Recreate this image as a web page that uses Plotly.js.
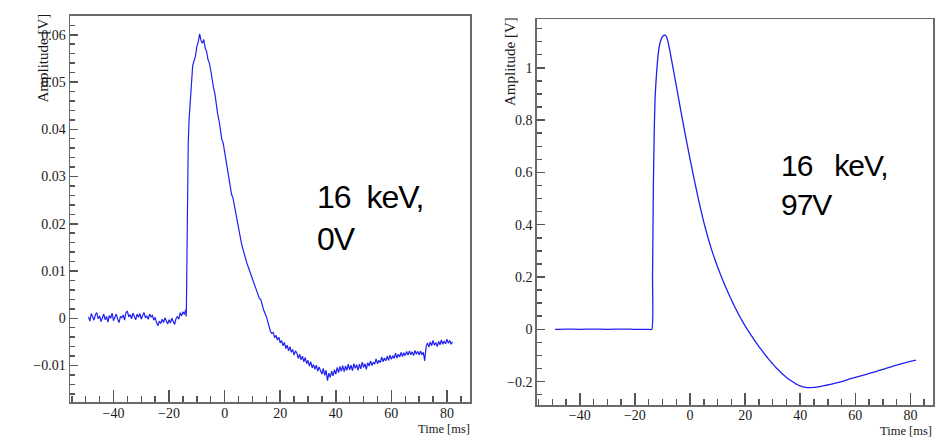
<!DOCTYPE html>
<html>
<head>
<meta charset="utf-8">
<script src="https://cdn.plot.ly/plotly-3.0.1.min.js"></script>
<style>
html,body{margin:0;padding:0;background:#ffffff;}
#plot{width:937px;height:437px;}
</style>
</head>
<body>
<div id="plot"></div>
<script>
// ---- Left panel: 16 keV, 0 V (time in ms, amplitude in V) ----
const timeLeft = [
-49,-48.5,-48,-47.5,-47,-46.5,-46,-45.5,-45,-44.5,-44,-43.5,-43,-42.5,-42,-41.5,-41,-40.5,-40,-39.5,
-39,-38.5,-38,-37.5,-37,-36.5,-36,-35.5,-35,-34.5,-34,-33.5,-33,-32.5,-32,-31.5,-31,-30.5,-30,-29.5,
-29,-28.5,-28,-27.5,-27,-26.5,-26,-25.5,-25,-24.5,-24,-23.5,-23,-22.5,-22,-21.5,-21,-20.5,-20,-19.5,
-19,-18.5,-18,-17.5,-17,-16.5,-16,-15.5,-15,-14.5,-14,-13.8,
-13.6,-13.4,-13.1,-12.8,-12.4,-12,-11.5,-11,-10.5,-10,-9.5,-9,-8.5,-8,-7.5,-7,-6.5,-6,-5.5,-5,
-4.5,-4,-3.5,-3,-2.5,-2,-1.5,-1,-0.5,0,0.5,1,1.5,2,2.5,3,3.5,4,4.5,5,
5.5,6,6.5,7,7.5,8,9,10,11,12,12.5,13,13.5,14,15,
15.5,16,16.5,17,17.5,18,18.5,19,19.5,20,20.5,21,21.5,22,22.5,23,23.5,24,24.5,25,
25.5,26,26.5,27,27.5,28,28.5,29,29.5,30,30.5,31,31.5,32,32.5,33,33.5,34,34.5,35,
35.5,36,36.5,37,37.5,38,38.5,39,39.5,40,40.5,41,41.5,42,42.5,43,43.5,44,44.5,45,
45.5,46,46.5,47,47.5,48,48.5,49,49.5,50,50.5,51,51.5,52,52.5,53,53.5,54,54.5,55,
55.5,56,56.5,57,57.5,58,58.5,59,59.5,60,60.5,61,61.5,62,62.5,63,63.5,64,64.5,65,
65.5,66,66.5,67,67.5,68,68.5,69,69.5,70,70.5,71,71.5,72,72.5,73,73.5,74,74.5,75,
75.5,76,76.5,77,77.5,78,78.5,79,79.5,80,80.5,81,81.5,82
];
const ampLeft = [
0.0003,-0.0006,0.0010,0.0002,-0.0004,0.0008,0.0012,-0.0001,0.0005,-0.0007,0.0001,0.0009,-0.0003,0.0004,-0.0008,0.0006,0.0000,0.0011,-0.0005,0.0003,
0.0009,-0.0002,-0.0009,0.0004,0.0001,0.0007,-0.0004,0.0012,0.0015,0.0003,0.0008,-0.0001,0.0011,0.0004,-0.0003,0.0009,0.0002,0.0010,-0.0002,0.0006,
0.0012,0.0001,0.0005,-0.0002,0.0009,0.0003,0.0006,-0.0004,0.0002,-0.0009,-0.0016,-0.0006,-0.0011,-0.0002,-0.0009,0.0001,-0.0007,-0.0012,-0.0003,-0.0010,
0.0000,-0.0008,-0.0013,-0.0001,0.0004,-0.0002,0.0012,0.0005,0.0014,0.0008,0.0018,0.0004,
0.0100,0.0280,0.0370,0.0420,0.0460,0.0500,0.0535,0.0545,0.0555,0.0575,0.0585,0.0602,0.0588,0.0582,0.0590,0.0572,0.0565,0.0548,0.0540,0.0525,
0.0500,0.0488,0.0475,0.0450,0.0432,0.0418,0.0400,0.0378,0.0370,0.0352,0.0332,0.0310,0.0300,0.0278,0.0262,0.0255,0.0238,0.0222,0.0205,0.0192,
0.0172,0.0160,0.0148,0.0137,0.0126,0.0117,0.0100,0.0084,0.0068,0.0052,0.0042,0.0040,0.0030,0.0018,0.0004,
-0.0006,-0.0020,-0.0028,-0.0032,-0.0030,-0.0041,-0.0036,-0.0046,-0.0040,-0.0052,-0.0047,-0.0058,-0.0051,-0.0064,-0.0057,-0.0069,-0.0060,-0.0072,-0.0066,-0.0078,
-0.0069,-0.0074,-0.0085,-0.0076,-0.0088,-0.0080,-0.0092,-0.0083,-0.0096,-0.0089,-0.0101,-0.0092,-0.0105,-0.0098,-0.0108,-0.0099,-0.0112,-0.0103,-0.0109,-0.0118,
-0.0106,-0.0121,-0.0110,-0.0132,-0.0116,-0.0125,-0.0112,-0.0122,-0.0109,-0.0118,-0.0104,-0.0115,-0.0102,-0.0112,-0.0100,-0.0113,-0.0101,-0.0110,-0.0097,-0.0109,
-0.0099,-0.0111,-0.0096,-0.0106,-0.0098,-0.0110,-0.0097,-0.0107,-0.0093,-0.0104,-0.0096,-0.0108,-0.0094,-0.0101,-0.0090,-0.0100,-0.0093,-0.0097,-0.0086,-0.0096,
-0.0089,-0.0094,-0.0082,-0.0092,-0.0084,-0.0090,-0.0080,-0.0089,-0.0078,-0.0087,-0.0079,-0.0085,-0.0074,-0.0084,-0.0076,-0.0082,-0.0072,-0.0081,-0.0073,-0.0079,
-0.0070,-0.0078,-0.0069,-0.0077,-0.0071,-0.0079,-0.0068,-0.0076,-0.0070,-0.0078,-0.0069,-0.0077,-0.0072,-0.0090,-0.0060,-0.0052,-0.0061,-0.0050,-0.0058,-0.0047,
-0.0057,-0.0051,-0.0060,-0.0049,-0.0056,-0.0046,-0.0055,-0.0048,-0.0054,-0.0044,-0.0053,-0.0047,-0.0055,-0.0050
];

// ---- Right panel: 16 keV, 97 V ----
const timeRight = [
-49,-45,-40,-35,-30,-25,-20,-15,-13.9,-13.6,-13.3,-13,-12.7,-12.2,-11.5,-11,-10.5,-10,-9.5,-9,
-8.5,-8,-7.5,-7,-6,-5,-4,-3,-2,-1,0,1,2,3,4,5,6,7,8,9,
10,11,12,13,14,15,16,17,18,19,20,21,22,23,24,25,26,27,28,29,
30,31,32,33,34,35,36,37,38,39,40,41,42,43,44,45,46,48,50,52,
54,56,58,60,62,64,66,68,70,72,74,76,78,80,82
];
const ampRight = [
0.000,0.001,0.000,0.001,0.000,0.001,0.000,0.000,0.000,0.200,0.550,0.750,0.878,0.970,1.057,1.090,1.108,1.119,1.124,1.125,
1.118,1.100,1.075,1.047,0.990,0.932,0.874,0.816,0.760,0.705,0.652,0.600,0.549,0.500,0.454,0.410,0.370,0.333,0.299,0.268,
0.239,0.211,0.185,0.160,0.136,0.113,0.091,0.070,0.050,0.031,0.013,-0.004,-0.020,-0.036,-0.051,-0.066,-0.080,-0.094,-0.107,-0.120,
-0.132,-0.144,-0.155,-0.165,-0.175,-0.184,-0.192,-0.199,-0.206,-0.212,-0.216,-0.220,-0.222,-0.223,-0.223,-0.222,-0.221,-0.217,-0.213,-0.208,
-0.203,-0.197,-0.190,-0.184,-0.178,-0.172,-0.166,-0.160,-0.153,-0.147,-0.140,-0.134,-0.128,-0.123,-0.118
];

const labelLeft = "16\u00a0\u00a0keV,<br>0V";
const labelRight = "16\u00a0\u00a0\u00a0keV,<br>97V";
const xTitle = "Time [ms]";
const yTitle = "Amplitude [V]";

const lineColor = "#2020f0";
const frameColor = "#6a6a6a";
const tickColor = "#555555";
const tickFont = {family: "Liberation Serif, Times New Roman, serif", size: 14, color: "#1a1a1a"};

function xAxis(domain, anchor) {
  return {
    domain: domain, anchor: anchor, range: [-55.65, 88.3],
    showgrid: false, zeroline: false, showline: true, mirror: true,
    linecolor: frameColor, linewidth: 1.5,
    ticks: "inside", ticklen: 12, tickwidth: 1.5, tickcolor: tickColor,
    dtick: 20, tick0: 0, tickfont: tickFont, ticklabelstandoff: -3,
    minor: {dtick: 5, tick0: 0, ticks: "inside", ticklen: 6, tickwidth: 1.5, tickcolor: tickColor}
  };
}
function yAxis(domain, anchor, range, dtick, minorDtick) {
  return {
    domain: domain, anchor: anchor, range: range,
    showgrid: false, zeroline: false, showline: true, mirror: true,
    linecolor: frameColor, linewidth: 1.5,
    ticks: "inside", ticklen: 8, tickwidth: 1.5, tickcolor: tickColor,
    dtick: dtick, tick0: 0, tickfont: tickFont,
    minor: {dtick: minorDtick, tick0: 0, ticks: "inside", ticklen: 5, tickwidth: 1.5, tickcolor: tickColor}
  };
}

const data = [
  {x: timeLeft, y: ampLeft, type: "scatter", mode: "lines", xaxis: "x", yaxis: "y",
   line: {color: lineColor, width: 1.2}, showlegend: false, hoverinfo: "skip"},
  {x: timeRight, y: ampRight, type: "scatter", mode: "lines", xaxis: "x2", yaxis: "y2",
   line: {color: lineColor, width: 1.3, shape: "spline", smoothing: 0.6}, showlegend: false, hoverinfo: "skip"}
];

const axTitleFont = {family: "Liberation Serif, Times New Roman, serif", size: 15, color: "#1a1a1a"};
const timeTitleFont = {family: "Liberation Serif, Times New Roman, serif", size: 12.5, color: "#1a1a1a"};
const bigFont = {family: "Liberation Sans, Arial, sans-serif", color: "#000000"};

const layout = {
  width: 937, height: 437,
  margin: {l: 0, r: 0, t: 0, b: 0},
  paper_bgcolor: "#ffffff", plot_bgcolor: "#ffffff",
  xaxis: xAxis([70/937, 470/937], "y"),
  yaxis: yAxis([1-402.3/437, 1-15.7/437], "x", [-0.01778, 0.06404], 0.01, 0.002),
  xaxis2: xAxis([536.7/937, 933.3/937], "y2"),
  yaxis2: yAxis([1-405/437, 1-19/437], "x2", [-0.2895, 1.1866], 0.2, 0.05),
  annotations: [
    {text: labelLeft, xref: "paper", yref: "paper", x: 0.3365, y: 0.595, xanchor: "left", yanchor: "top",
     align: "left", showarrow: false, font: Object.assign({size: 32}, bigFont)},
    {text: labelRight, xref: "paper", yref: "paper", x: 0.831, y: 0.663, xanchor: "left", yanchor: "top",
     align: "left", showarrow: false, font: Object.assign({size: 30}, bigFont)},
    {text: yTitle, xref: "paper", yref: "paper", x: 42/937, y: 1-12/437, xanchor: "center", yanchor: "top",
     textangle: -90, showarrow: false, font: axTitleFont},
    {text: yTitle, xref: "paper", yref: "paper", x: 509.5/937, y: 1-15/437, xanchor: "center", yanchor: "top",
     textangle: -90, showarrow: false, font: axTitleFont},
    {text: xTitle, xref: "paper", yref: "paper", x: 472/937, y: 1-429/437, xanchor: "right", yanchor: "middle",
     showarrow: false, font: timeTitleFont},
    {text: xTitle, xref: "paper", yref: "paper", x: 934/937, y: 1-430.5/437, xanchor: "right", yanchor: "middle",
     showarrow: false, font: timeTitleFont}
  ]
};

Plotly.newPlot("plot", data, layout, {staticPlot: true, displayModeBar: false}).then(function () {
  document.querySelectorAll(".annotation-text").forEach(function (el) {
    if (el.textContent.indexOf("keV") >= 0) el.style.letterSpacing = "-1px";
  });
});
</script>
</body>
</html>
